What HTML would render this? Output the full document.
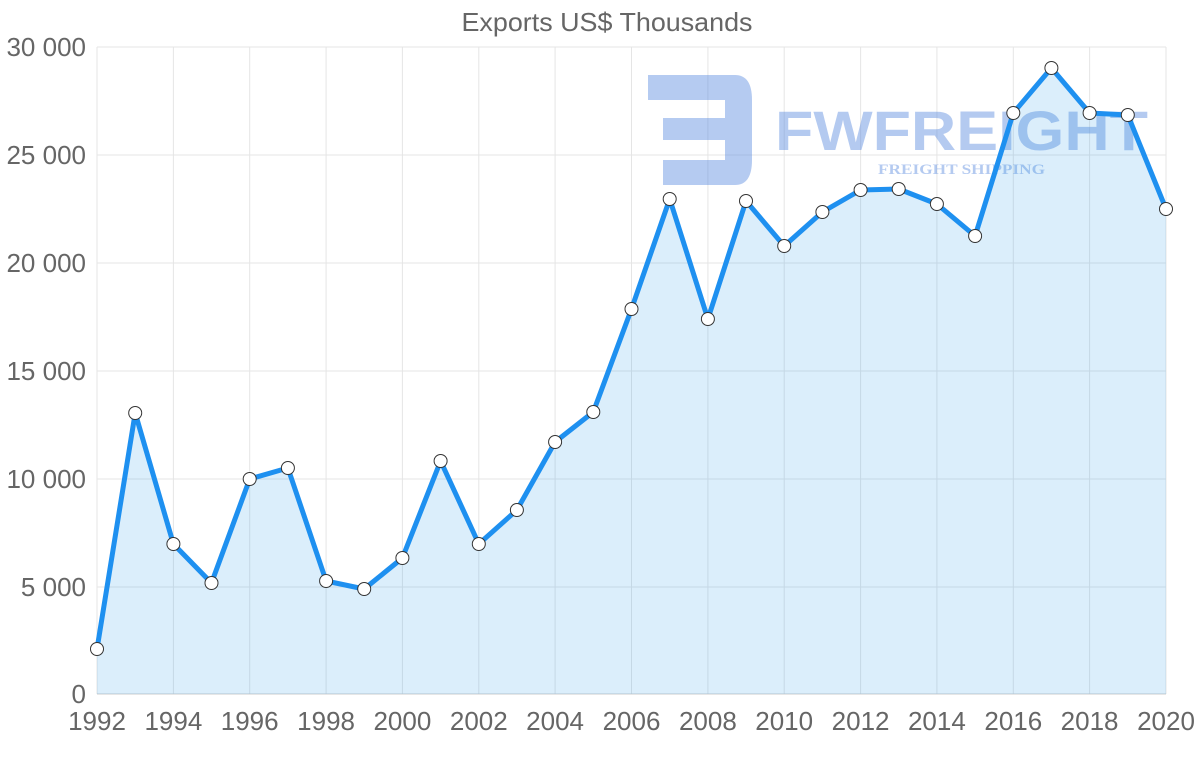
<!DOCTYPE html>
<html><head><meta charset="utf-8"><style>
html,body{margin:0;padding:0;background:#fff;}
svg{display:block;font-family:"Liberation Sans",sans-serif;}
</style></head><body>
<svg width="1200" height="763" viewBox="0 0 1200 763" xmlns="http://www.w3.org/2000/svg">
<text x="607" y="31" text-anchor="middle" font-size="26" fill="#666" textLength="291" lengthAdjust="spacingAndGlyphs">Exports US$ Thousands</text>
<g stroke="#e5e5e5" stroke-width="1">
<line x1="97" y1="47" x2="1166" y2="47"/><line x1="97" y1="155" x2="1166" y2="155"/><line x1="97" y1="263" x2="1166" y2="263"/><line x1="97" y1="371" x2="1166" y2="371"/><line x1="97" y1="479" x2="1166" y2="479"/><line x1="97" y1="587" x2="1166" y2="587"/>
<line x1="97" y1="47" x2="97" y2="694"/><line x1="173.4" y1="47" x2="173.4" y2="694"/><line x1="249.7" y1="47" x2="249.7" y2="694"/><line x1="326.1" y1="47" x2="326.1" y2="694"/><line x1="402.4" y1="47" x2="402.4" y2="694"/><line x1="478.8" y1="47" x2="478.8" y2="694"/><line x1="555.1" y1="47" x2="555.1" y2="694"/><line x1="631.5" y1="47" x2="631.5" y2="694"/><line x1="707.9" y1="47" x2="707.9" y2="694"/><line x1="784.2" y1="47" x2="784.2" y2="694"/><line x1="860.6" y1="47" x2="860.6" y2="694"/><line x1="936.9" y1="47" x2="936.9" y2="694"/><line x1="1013.3" y1="47" x2="1013.3" y2="694"/><line x1="1089.6" y1="47" x2="1089.6" y2="694"/><line x1="1166" y1="47" x2="1166" y2="694"/>
</g>
<line x1="97" y1="694" x2="1166" y2="694" stroke="#ccc"/>
<g font-size="26" fill="#666" text-anchor="end">
<text x="86" y="56">30 000</text><text x="86" y="164">25 000</text><text x="86" y="272">20 000</text><text x="86" y="380">15 000</text><text x="86" y="488">10 000</text><text x="86" y="596">5 000</text><text x="86" y="703">0</text>
</g>
<g font-size="26" fill="#666" text-anchor="middle">
<text x="97" y="730">1992</text><text x="173.4" y="730">1994</text><text x="249.7" y="730">1996</text><text x="326.1" y="730">1998</text><text x="402.4" y="730">2000</text><text x="478.8" y="730">2002</text><text x="555.1" y="730">2004</text><text x="631.5" y="730">2006</text><text x="707.9" y="730">2008</text><text x="784.2" y="730">2010</text><text x="860.6" y="730">2012</text><text x="936.9" y="730">2014</text><text x="1013.3" y="730">2016</text><text x="1089.6" y="730">2018</text><text x="1166" y="730">2020</text>
</g>
<g opacity="0.45">
<path d="M648 75 H735 Q752 75 752 100 V160 Q752 185 735 185 H663 V160 H725 V140 H663 V118 H725 V100 H648 Z" fill="#5b8be0"/>
<text x="775" y="150" font-size="56" font-weight="bold" fill="#5b8be0" textLength="373" lengthAdjust="spacingAndGlyphs">FWFREIGHT</text>
<text x="878" y="174" font-size="15" font-weight="bold" fill="#5b8be0" font-family="Liberation Serif,serif" textLength="167" lengthAdjust="spacingAndGlyphs">FREIGHT SHIPPING</text>
</g>
<polygon fill="rgba(54,162,235,0.18)" points="97,694 97,649 135.2,413 173.4,544 211.5,583 249.7,479 287.9,468 326.1,581 364.2,589 402.4,558 440.6,461 478.8,544 516.9,510 555.1,442 593.3,412 631.5,309 669.7,199 707.9,319 746,201 784.2,246 822.4,212 860.6,190 898.7,189 936.9,204 975.1,236 1013.3,113 1051.4,68 1089.6,113 1127.8,115 1166,209 1166,694"/>
<polyline fill="none" stroke="#1e90f0" stroke-width="5" stroke-linejoin="round" points="97,649 135.2,413 173.4,544 211.5,583 249.7,479 287.9,468 326.1,581 364.2,589 402.4,558 440.6,461 478.8,544 516.9,510 555.1,442 593.3,412 631.5,309 669.7,199 707.9,319 746,201 784.2,246 822.4,212 860.6,190 898.7,189 936.9,204 975.1,236 1013.3,113 1051.4,68 1089.6,113 1127.8,115 1166,209"/>
<g fill="#fff" stroke="#333" stroke-width="1">
<circle cx="97" cy="649" r="6.5"/><circle cx="135.2" cy="413" r="6.5"/><circle cx="173.4" cy="544" r="6.5"/><circle cx="211.5" cy="583" r="6.5"/><circle cx="249.7" cy="479" r="6.5"/><circle cx="287.9" cy="468" r="6.5"/><circle cx="326.1" cy="581" r="6.5"/><circle cx="364.2" cy="589" r="6.5"/><circle cx="402.4" cy="558" r="6.5"/><circle cx="440.6" cy="461" r="6.5"/><circle cx="478.8" cy="544" r="6.5"/><circle cx="516.9" cy="510" r="6.5"/><circle cx="555.1" cy="442" r="6.5"/><circle cx="593.3" cy="412" r="6.5"/><circle cx="631.5" cy="309" r="6.5"/><circle cx="669.7" cy="199" r="6.5"/><circle cx="707.9" cy="319" r="6.5"/><circle cx="746" cy="201" r="6.5"/><circle cx="784.2" cy="246" r="6.5"/><circle cx="822.4" cy="212" r="6.5"/><circle cx="860.6" cy="190" r="6.5"/><circle cx="898.7" cy="189" r="6.5"/><circle cx="936.9" cy="204" r="6.5"/><circle cx="975.1" cy="236" r="6.5"/><circle cx="1013.3" cy="113" r="6.5"/><circle cx="1051.4" cy="68" r="6.5"/><circle cx="1089.6" cy="113" r="6.5"/><circle cx="1127.8" cy="115" r="6.5"/><circle cx="1166" cy="209" r="6.5"/>
</g>
</svg>
</body></html>
